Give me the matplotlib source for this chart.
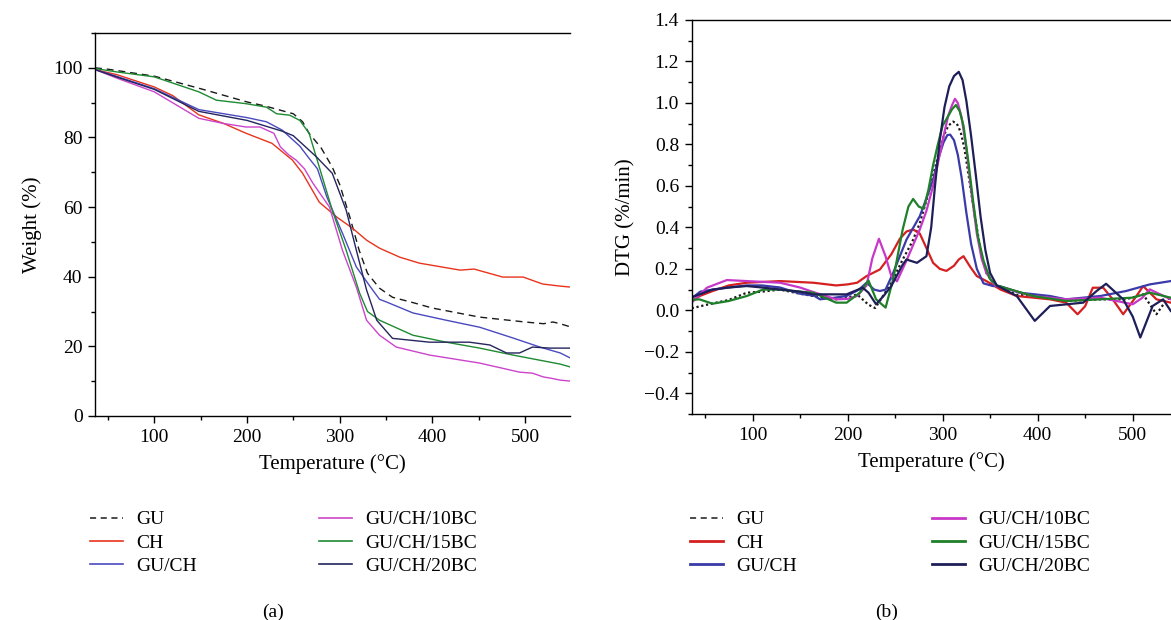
import numpy as np
import matplotlib
matplotlib.use("Agg")
import matplotlib.pyplot as plt
from matplotlib.lines import Line2D
from matplotlib.ticker import MultipleLocator, FuncFormatter

plt.rcParams['font.family'] = ['Liberation Serif', 'DejaVu Serif']

labels = ["GU", "CH", "GU/CH", "GU/CH/10BC", "GU/CH/15BC", "GU/CH/20BC"]

# ---- TGA (a) ----
t_gu = [36, 50, 100, 150, 200, 220, 250, 260, 267, 280, 292, 300, 311, 321, 330, 336, 343, 357, 380, 400, 451, 500, 520, 530, 538, 550]
w_gu = [100, 99.6, 97.6, 94, 90.2, 89, 86.8, 84.5, 81.2, 77, 71.5, 66.5, 57.1, 47.6, 41, 39.0, 36.7, 34.1, 32.5, 31, 28.4, 27, 26.5, 27, 26.5, 25.5]

t_ch = [36, 60, 100, 120, 148, 175, 199, 227, 249, 260, 278, 297, 314, 329, 343, 365, 386, 430, 445, 476, 498, 519, 538, 550]
w_ch = [99.5, 98, 94.5, 92, 86.5, 84, 81.2, 78.3, 73.5, 69.7, 61.4, 57.1, 53.9, 50.5, 48.2, 45.6, 43.9, 41.9, 42.2, 39.9, 39.9, 37.9, 37.3, 37]

t_guch = [36, 60, 100, 148, 200, 221, 238, 257, 267, 276, 286, 303, 318, 332, 343, 350, 379, 415, 451, 487, 516, 538, 550]
w_guch = [99.5, 97.5, 94, 88, 85.7, 84.5, 82.1, 77.5, 74, 71, 63, 52.5, 42.8, 37.5, 33.5, 32.8, 29.6, 27.5, 25.5, 22.4, 19.8, 18.1, 16.5]

t_10 = [36, 60, 100, 148, 175, 199, 214, 229, 236, 245, 253, 262, 271, 289, 303, 318, 329, 343, 361, 397, 451, 494, 508, 520, 527, 538, 550]
w_10 = [99.5, 97, 93.1, 85.5, 84, 83, 83, 81.2, 77.3, 75, 73.5, 71, 66.9, 60, 47.6, 37, 27.5, 23.2, 19.8, 17.5, 15.2, 12.6, 12.3, 11.2, 10.9, 10.3, 10]

t_15 = [36, 60, 100, 148, 167, 199, 221, 232, 246, 257, 267, 278, 292, 307, 321.5, 330, 343, 379, 415, 451, 487, 538, 550]
w_15 = [99.8, 98.8, 97.4, 93.1, 90.7, 89.7, 88.7, 86.8, 86.4, 84.9, 81.2, 71.5, 59.1, 47.6, 35.3, 30, 27.5, 23.2, 21.2, 19.5, 17.5, 14.9, 14]

t_20 = [36, 60, 100, 148, 200, 238, 250, 275, 292, 307, 318, 329, 340, 357, 397, 440, 462, 480, 494, 508, 527, 550]
w_20 = [99.5, 97.3, 93.8, 87.5, 84.9, 81.8, 80.5, 74.4, 69.7, 59.1, 47.6, 36.2, 27.5, 22.3, 21.2, 21.2, 20.4, 18.1, 18.1, 19.8, 19.5, 19.5]

# ---- DTG (b) ----
d_gu_t = [36, 50, 60, 75, 94, 110, 129, 150, 164, 188, 200, 210, 222, 229, 236, 246, 258, 268, 276, 283, 290, 296, 301, 306, 311, 315, 319, 323, 328, 334, 340, 346, 355, 378, 395, 430, 466, 493, 511, 525, 536, 540]
d_gu_v = [0.01, 0.025, 0.035, 0.05, 0.085, 0.09, 0.10, 0.08, 0.069, 0.053, 0.06, 0.077, 0.027, 0.011, 0.06, 0.133, 0.245, 0.33, 0.42, 0.53, 0.65, 0.76, 0.84, 0.89, 0.91, 0.90, 0.86, 0.78, 0.63, 0.45, 0.29, 0.18, 0.12, 0.075, 0.069, 0.045, 0.053, 0.053, 0.077, -0.019, 0.053, 0.06]

d_ch_t = [36, 45, 58, 75, 94, 129, 164, 188, 200, 210, 220, 234, 246, 255, 262, 269, 276, 283, 290, 297, 304, 312, 317, 322, 329, 336, 346, 361, 378, 413, 430, 442, 450, 458, 469, 479, 490, 504, 511, 525, 540]
d_ch_v = [0.045, 0.07, 0.093, 0.12, 0.133, 0.141, 0.133, 0.12, 0.125, 0.133, 0.165, 0.197, 0.27, 0.345, 0.38, 0.39, 0.37, 0.30, 0.229, 0.20, 0.19, 0.215, 0.245, 0.261, 0.21, 0.165, 0.141, 0.1, 0.069, 0.053, 0.037, -0.019, 0.02, 0.109, 0.109, 0.053, -0.019, 0.069, 0.117, 0.053, 0.037]

d_guch_t = [36, 45, 58, 75, 94, 110, 129, 150, 165, 171, 185, 199, 212, 220, 228, 234, 240, 248, 262, 276, 283, 290, 296, 301, 305, 308, 312, 316, 320, 325, 330, 336, 343, 353, 360, 381, 413, 430, 466, 493, 518, 540]
d_guch_v = [0.058, 0.09, 0.1, 0.11, 0.12, 0.12, 0.11, 0.08, 0.07, 0.053, 0.06, 0.069, 0.1, 0.133, 0.1, 0.093, 0.1, 0.181, 0.341, 0.454, 0.54, 0.63, 0.74, 0.81, 0.845, 0.847, 0.82, 0.75, 0.64, 0.47, 0.32, 0.20, 0.13, 0.117, 0.117, 0.085, 0.069, 0.053, 0.069, 0.093, 0.125, 0.141]

d_10_t = [36, 52, 73, 94, 129, 150, 164, 188, 200, 210, 220, 226, 233, 240, 246, 252, 262, 276, 283, 290, 296, 301, 306, 310, 313, 316, 320, 325, 330, 336, 341, 346, 355, 395, 430, 466, 500, 510, 518, 540]
d_10_v = [0.037, 0.109, 0.146, 0.141, 0.133, 0.11, 0.088, 0.053, 0.055, 0.069, 0.12, 0.25, 0.345, 0.26, 0.165, 0.14, 0.24, 0.39, 0.48, 0.60, 0.73, 0.84, 0.94, 0.99, 1.02, 1.0, 0.93, 0.78, 0.58, 0.37, 0.25, 0.18, 0.12, 0.069, 0.053, 0.061, 0.029, 0.06, 0.101, 0.053]

d_15_t = [36, 44, 58, 75, 94, 111, 129, 150, 164, 188, 199, 213, 222, 230, 240, 248, 258, 264, 269, 275, 280, 285, 290, 295, 300, 305, 310, 314, 318, 322, 327, 332, 337, 343, 350, 357, 395, 430, 466, 500, 518, 540]
d_15_v = [0.05, 0.053, 0.032, 0.045, 0.069, 0.1, 0.1, 0.09, 0.085, 0.037, 0.037, 0.085, 0.144, 0.053, 0.013, 0.15, 0.39, 0.50, 0.537, 0.50, 0.49, 0.58, 0.70, 0.80, 0.89, 0.93, 0.97, 0.99, 0.96, 0.89, 0.72, 0.53, 0.36, 0.24, 0.15, 0.12, 0.069, 0.045, 0.053, 0.061, 0.085, 0.061]

d_20_t = [36, 58, 75, 94, 110, 129, 150, 164, 199, 216, 222, 230, 238, 246, 258, 262, 273, 283, 288, 292, 297, 302, 307, 312, 317, 321, 325, 330, 335, 340, 345, 350, 357, 378, 397, 413, 448, 462, 472, 490, 500, 508, 521, 532, 540]
d_20_v = [0.063, 0.1, 0.11, 0.117, 0.11, 0.1, 0.09, 0.077, 0.077, 0.109, 0.085, 0.029, 0.07, 0.117, 0.22, 0.245, 0.229, 0.261, 0.40, 0.60, 0.82, 0.98, 1.08, 1.13, 1.15, 1.11, 1.01, 0.84, 0.65, 0.45, 0.29, 0.18, 0.12, 0.069, -0.051, 0.021, 0.037, 0.093, 0.128, 0.053, -0.03, -0.131, 0.021, 0.053, -0.003]

col_a = ["#1a1a1a", "#e8341c", "#4a4ac0", "#cc44cc", "#1e8a32", "#25255e"]
col_b = ["#1a1a1a", "#d42020", "#3a3aa8", "#c838c8", "#1e8028", "#1e1e58"]

fig = plt.figure(figsize=(11.71, 6.2), dpi=100)
ax1 = fig.add_axes([95/1171, 1-416/620, 475/1171, 383/620])
ax2 = fig.add_axes([691.5/1171, 1-414/620, 479.5/1171, 394/620])

tga = [(t_gu, w_gu), (t_ch, w_ch), (t_guch, w_guch), (t_10, w_10), (t_15, w_15), (t_20, w_20)]
for i, (t, w) in enumerate(tga):
    ls = (0, (5, 3.5)) if i == 0 else "-"
    ax1.plot(t, w, color=col_a[i], lw=1.0, ls=ls)

dtg = [(d_gu_t, d_gu_v), (d_ch_t, d_ch_v), (d_guch_t, d_guch_v), (d_10_t, d_10_v), (d_15_t, d_15_v), (d_20_t, d_20_v)]
for i, (t, v) in enumerate(dtg):
    ls = (0, (1, 1.2)) if i == 0 else "-"
    ax2.plot(t, v, color=col_b[i], lw=1.6, ls=ls)

ax1.set_xlim(36, 548.5)
ax1.set_ylim(0, 110)
ax1.xaxis.set_major_locator(MultipleLocator(100))
ax1.xaxis.set_minor_locator(MultipleLocator(50))
ax1.yaxis.set_major_locator(MultipleLocator(20))
ax1.yaxis.set_minor_locator(MultipleLocator(10))
ax1.set_xlabel("Temperature (°C)", fontsize=15, labelpad=6)
ax1.set_ylabel("Weight (%)", fontsize=15, labelpad=8)

ax2.set_xlim(35.8, 540.3)
ax2.set_ylim(-0.5, 1.4)
ax2.xaxis.set_major_locator(MultipleLocator(100))
ax2.xaxis.set_minor_locator(MultipleLocator(50))
ax2.yaxis.set_major_locator(MultipleLocator(0.2))
ax2.yaxis.set_minor_locator(MultipleLocator(0.1))
ax2.yaxis.set_major_formatter(FuncFormatter(lambda v, p: ("%.1f" % v).replace("-", "\u2212")))
ax2.set_xlabel("Temperature (°C)", fontsize=15, labelpad=6)
ax2.set_ylabel("DTG (%/min)", fontsize=15, labelpad=6)

for ax in (ax1, ax2):
    ax.spines["right"].set_visible(False)
    for s in ("left", "bottom", "top"):
        ax.spines[s].set_linewidth(1.0)
    ax.tick_params(which="major", direction="out", length=5, width=1.0, labelsize=14, pad=4)
    ax.tick_params(which="minor", direction="out", length=3, width=1.0)
    ax.tick_params(top=False, right=False, which="both")

def handles(cols, lw):
    hs = []
    for i in range(6):
        if i == 0:
            hs.append(Line2D([], [], color=cols[i], lw=1.1, ls=(0, (4, 3))))
        else:
            hs.append(Line2D([], [], color=cols[i], lw=lw))
    return hs

ha = handles(col_a, 1.2)
hb = handles(col_b, 2.0)
leg_y = 1 - 543/620
for hs, xs in ((ha, (90, 319)), (hb, (690, 932))):
    for k in range(2):
        fig.legend(hs[3*k:3*k+3], labels[3*k:3*k+3], loc="center left",
                   bbox_to_anchor=(xs[k]/1171, leg_y), frameon=False, fontsize=14,
                   borderpad=0, borderaxespad=0, handlelength=1.7, handletextpad=0.7,
                   labelspacing=0.3)

fig.text(273/1171, 1-612/620, "(a)", ha="center", va="center", fontsize=14)
fig.text(887/1171, 1-612/620, "(b)", ha="center", va="center", fontsize=14)

fig.savefig("out.png", dpi=100)
